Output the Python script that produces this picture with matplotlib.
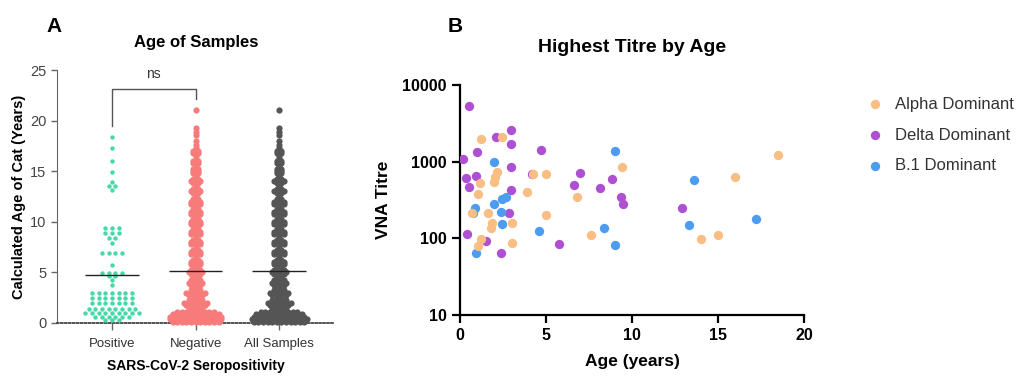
import numpy as np
import matplotlib.pyplot as plt

plt.rcParams['font.family'] = ['Liberation Sans', 'DejaVu Sans']

# ---- panel A: age of samples (value levels and how many dots sit on each) ----
groups = ['Positive', 'Negative', 'All Samples']

pos_ages = [18.4, 17.3, 16.0, 14.9, 13.9, 13.5, 13.1, 9.4, 8.9, 8.4, 7.9, 6.9, 5.7,
            4.9, 4.6, 4.2, 3.8, 3.0, 2.5, 2.0, 1.4, 1.0, 0.6, 0.25]
pos_counts = [1, 1, 1, 1, 1, 2, 1, 3, 3, 2, 1, 4, 1,
              4, 2, 1, 1, 7, 7, 7, 8, 9, 6, 3]

neg_ages = [0.1, 0.35, 0.6, 0.85, 1.1, 1.5, 1.8, 2.0, 2.25, 2.5, 2.8, 3.0, 3.25, 3.5,
            3.8, 4.0, 4.25, 4.5, 4.8, 5.0, 5.25, 5.5, 5.8, 6.0, 6.25, 6.5, 6.8, 7.0,
            7.25, 7.5, 7.8, 8.0, 8.25, 8.5, 8.8, 9.0, 9.25, 9.5, 9.8, 10.0, 10.25,
            10.5, 10.8, 11.0, 11.25, 11.5, 11.8, 12.0, 12.25, 12.5, 12.8, 13.0, 13.25,
            13.5, 13.8, 14.0, 14.25, 14.5, 14.8, 15.0, 15.25, 15.5, 15.8, 16.0, 16.25,
            16.5, 16.8, 17.0, 17.3, 17.6, 18.0, 18.6, 18.9, 19.3, 21.0]
neg_counts = [11, 12, 12, 11, 9, 4, 5, 6, 4, 2, 4, 5, 3, 2,
              3, 4, 3, 2, 3, 4, 3, 2, 3, 3, 2, 1, 3, 3,
              2, 1, 3, 3, 2, 1, 3, 3, 2, 1, 3, 3, 2,
              1, 3, 3, 2, 1, 3, 3, 2, 1, 2, 3, 2,
              1, 2, 3, 2, 1, 2, 2, 2, 1, 2, 2, 1,
              1, 2, 2, 1, 1, 1, 1, 1, 1, 1]
all_counts = [12, 13, 12, 11, 9, 4, 5, 6, 4, 2, 4, 5, 3, 2,
              3, 4, 3, 2, 3, 4, 3, 2, 3, 3, 2, 1, 3, 3,
              2, 1, 3, 3, 2, 1, 3, 3, 2, 1, 3, 3, 2,
              1, 3, 3, 2, 1, 3, 3, 2, 1, 2, 3, 2,
              1, 2, 3, 2, 1, 2, 2, 2, 1, 2, 2, 1,
              1, 2, 2, 1, 1, 1, 1, 1, 1, 1]

group_means = [4.75, 5.1, 5.1]
pos_color, neg_color, all_color = '#45D9A6', '#F77B7B', '#555555'

# ---- panel B: highest titre by age ----
alpha_age = [1.24, 2.42, 2.13, 2.03, 1.98, 1.16, 1.03, 0.68, 1.61, 1.84, 1.78, 3.0, 3.0,
             1.24, 1.03, 4.24, 4.98, 3.91, 5.0, 6.82, 7.6, 9.4, 18.47, 16.0, 14.0, 15.0]
alpha_titre = [1960, 2080, 740, 630, 550, 525, 376, 212, 212, 157, 135, 157, 88,
               98, 80, 684, 684, 407, 200, 350, 110, 845, 1230, 630, 98, 110]

delta_age = [0.52, 0.16, 2.07, 2.97, 2.97, 1.0, 0.35, 0.93, 0.52, 2.97, 2.97, 2.85, 0.39,
             1.51, 2.4, 4.71, 4.19, 6.98, 6.65, 8.12, 8.82, 9.38, 9.5, 5.76, 12.9]
delta_titre = [5320, 1075, 2120, 2590, 1690, 1350, 620, 650, 463, 860, 427, 212, 113,
               93, 65, 1420, 696, 720, 490, 458, 603, 350, 283, 84, 251]

b1_age = [2.0, 0.87, 0.78, 2.0, 2.46, 2.67, 2.4, 2.46, 0.93, 4.6, 9.0, 8.39, 9.0,
          13.58, 13.33, 17.19]
b1_titre = [980, 245, 212, 280, 330, 345, 221, 155, 65, 126, 1380, 135, 83,
            572, 148, 178]


def swarm(center, levels, counts, dx):
    xs, ys = [], []
    for v, n in zip(levels, counts):
        offs = (np.arange(n) - (n - 1) / 2) * dx
        xs.extend(center + offs)
        ys.extend([v] * n)
    return np.array(xs), np.array(ys)


W, H = 1033, 378
fig = plt.figure(figsize=(W / 100, H / 100), dpi=100)

# ---------------- panel A ----------------
axA = fig.add_axes([57 / W, 1 - 323 / H, 278 / W, 253 / H])
grey = '#666666'

x, y = swarm(0, neg_ages, neg_counts, 0.055)
axA.scatter(x + 1, y, s=20, color=neg_color, lw=0, clip_on=False, zorder=3)
x, y = swarm(0, neg_ages, all_counts, 0.055)
axA.scatter(x + 2, y, s=20, color=all_color, lw=0, clip_on=False, zorder=3)
x, y = swarm(0, pos_ages, pos_counts, 0.08)
axA.scatter(x, y, s=10, color=pos_color, lw=0, clip_on=False, zorder=3)

for i, m in enumerate(group_means):
    axA.hlines(m, i - 0.32, i + 0.32, color='#222222', lw=1, zorder=4)

# significance bracket
axA.plot([0, 0, 1, 1], [19.5, 23.1, 23.1, 22.1], color='#555555', lw=1, clip_on=False)
axA.text(0.49, 24.6, 'ns', ha='center', va='center', fontsize=10, color='#333333')

axA.set_xlim(-0.66, 2.67)
axA.set_ylim(0, 25)
axA.set_yticks([0, 5, 10, 15, 20, 25])
axA.set_xticks(range(3))
axA.set_xticklabels(groups, fontsize=9.5, color='#333333')
axA.tick_params(axis='y', labelsize=10.5, colors=grey, labelcolor='#444444', length=4, width=1)
axA.tick_params(axis='x', colors=grey, labelcolor='#333333', length=5, width=1, pad=6)
for s in ['top', 'right']:
    axA.spines[s].set_visible(False)
axA.spines['left'].set_color(grey)
axA.spines['bottom'].set_color('#444444')
axA.spines['bottom'].set_linestyle((0, (1, 1.2)))
axA.spines['bottom'].set_linewidth(1.3)
axA.set_ylabel('Calculated Age of Cat (Years)', fontsize=10.5, fontweight='bold', labelpad=3)
axA.set_xlabel('SARS-CoV-2 Seropositivity', fontsize=10, fontweight='bold', labelpad=6)

fig.text(196 / W, 1 - 42 / H, 'Age of Samples', ha='center', va='center',
         fontsize=12, fontweight='bold')
fig.text(54 / W, 1 - 26 / H, 'A', ha='center', va='center', fontsize=15, fontweight='bold')

# ---------------- panel B ----------------
axB = fig.add_axes([460 / W, 1 - 315 / H, 344 / W, 230 / H])
axB.scatter(delta_age, delta_titre, s=45, color='#AE50D2', lw=0, label='Delta Dominant', zorder=3)
axB.scatter(b1_age, b1_titre, s=45, color='#4C9CF0', lw=0, label='B.1 Dominant', zorder=3)
axB.scatter(alpha_age, alpha_titre, s=45, color='#F9BE84', lw=0, label='Alpha Dominant', zorder=3)

axB.set_yscale('log')
axB.set_ylim(10, 10000)
axB.set_xlim(0, 20)
axB.set_yticks([10, 100, 1000, 10000])
axB.set_yticklabels(['10', '100', '1000', '10000'])
axB.minorticks_off()
axB.set_xticks([0, 5, 10, 15, 20])
for s in ['top', 'right']:
    axB.spines[s].set_visible(False)
for s in ['left', 'bottom']:
    axB.spines[s].set_linewidth(1.6)
axB.tick_params(length=6, width=1.6, labelsize=11.5)
for lab in axB.get_xticklabels() + axB.get_yticklabels():
    lab.set_fontweight('bold')
axB.set_ylabel('VNA Titre', fontsize=12.5, fontweight='bold', labelpad=8)
axB.set_xlabel('Age (years)', fontsize=12.5, fontweight='bold', labelpad=8)

h, l = axB.get_legend_handles_labels()
order = [2, 0, 1]
axB.legend([h[i] for i in order], [l[i] for i in order], loc='upper left',
           bbox_to_anchor=(858 / W, 1 - 90 / H), bbox_transform=fig.transFigure,
           frameon=False, fontsize=12, handletextpad=0.6, labelspacing=0.95,
           borderaxespad=0, labelcolor='#333333', handlelength=1.2)

fig.text(632 / W, 1 - 47 / H, 'Highest Titre by Age', ha='center', va='center',
         fontsize=14, fontweight='bold')
fig.text(455 / W, 1 - 27 / H, 'B', ha='center', va='center', fontsize=15, fontweight='bold')

fig.savefig('out.png', dpi=100)
